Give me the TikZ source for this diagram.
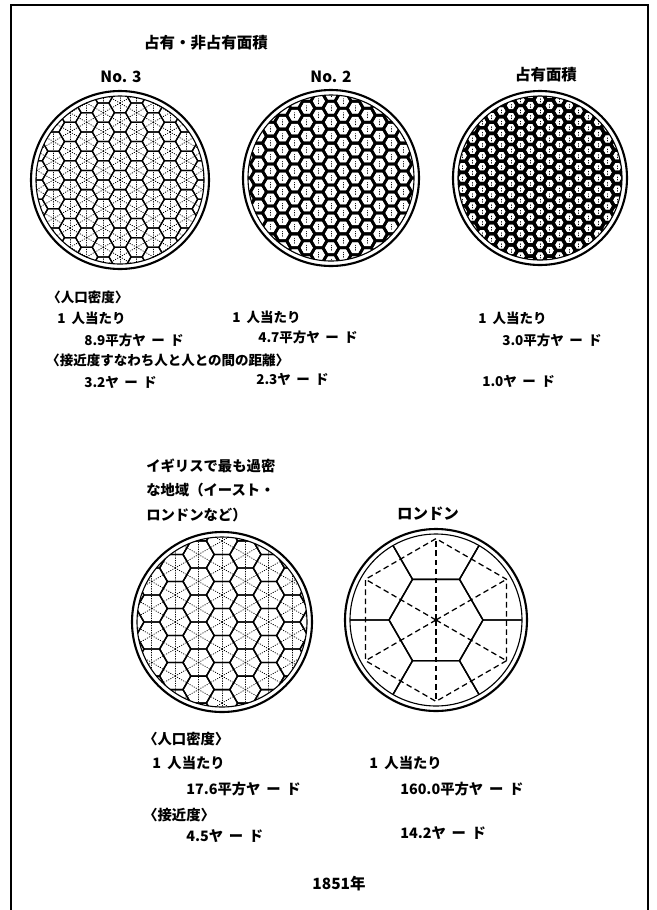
\documentclass[tikz,border=0pt]{standalone}
\usepackage{fontspec}
\setmainfont{Noto Sans CJK JP}
\usetikzlibrary{positioning}

% hexagon cells clipped to a disc: centre x, centre y, clip radius, side, wall style, cell motif
\newcommand{\hexfield}[6]{%
  \begin{scope}
    \clip (#1,#2) circle[radius=#3];
    \pgfmathsetmacro\ha{#4}
    \pgfmathtruncatemacro\ncol{#3/(1.5*#4)+2}
    \pgfmathtruncatemacro\nrow{#3/(1.7320508*#4)+2}
    \foreach \i in {-\ncol,...,\ncol}{
      \foreach \j in {-\nrow,...,\nrow}{
        \pgfmathsetmacro\hx{#1+1.5*#4*\i}
        \pgfmathsetmacro\hy{#2+1.7320508*#4*(\j+0.5*mod(abs(\i),2))}
        \begin{scope}[shift={(\hx,\hy)}]
          \draw[#5] (0:#4) -- (60:#4) -- (120:#4) -- (180:#4) -- (240:#4) -- (300:#4) -- cycle;
          #6
        \end{scope}
      }
    }
  \end{scope}}
\newcommand{\spokes}{\foreach \k in {30,90,...,330}{\draw[dots] (0,0) -- (\k:0.78*\ha);}}
\newcommand{\cellbar}{\draw[dots] (90:0.3*\ha) -- (270:0.3*\ha);}
\newcommand{\yd}{ヤ\kern0.4emー\kern0.4emド}

\begin{document}
\begin{tikzpicture}[x=0.025cm,y=-0.025cm,
  txt/.style={font=\bfseries\fontsize{9.6}{12}\selectfont,inner sep=0pt,anchor=west},
  btxt/.style={txt,font=\bfseries\fontsize{10.2}{12}\selectfont},
  ttl/.style={font=\bfseries\fontsize{11}{13}\selectfont,inner sep=0pt},
  rim/.style={line width=1.5pt},
  inrim/.style={line width=0.8pt},
  wall/.style={line width=#1},
  wall/.default=0.9pt,
  heavywall/.style={line width=#1,line join=round},
  dots/.style={line width=0.6pt,dash pattern=on 0.4pt off 1.3pt,line cap=round},
  guide/.style={line width=0.9pt,dash pattern=on 4pt off 2.5pt}]
  \useasboundingbox (0,0) rectangle (657,910);
  \draw[line width=1pt] (11,910) -- (11,5) -- (648,5) -- (648,910);

  \coordinate (c3) at (120,180);
  \coordinate (c2) at (331,178);
  \coordinate (c1) at (540,178);
  \coordinate (ec) at (222,622);
  \coordinate (lc) at (436,620);

  % occupied and unoccupied area
  \node[ttl] (title) at (206,43) {占有・非占有面積};
  \node[ttl] (no3) at (121,77) {No. 3};
  \node[ttl] (no2) at (331,77) {No. 2};
  \node[ttl] (occ) at (546,75) {占有面積};

  \hexfield{120}{180}{84}{11.1}{wall}{\spokes}
  \hexfield{331}{178}{83}{8.06}{heavywall=2pt}{\cellbar}
  \hexfield{540}{178}{82}{6.44}{heavywall=2.4pt}{\cellbar}
  \foreach \c/\r in {c3/89,c2/88,c1/87}{
    \draw[rim] (\c) circle[radius=\r];
    \draw[inrim] (\c) circle[radius=\r-5];
  }

  \node[txt] (dens) at (47,297) {〈人口密度〉};
  \node[txt] (per3) at (57,318) {1\hspace{0.45em}人当たり};
  \node[txt] (per2) at (232,317) {1\hspace{0.45em}人当たり};
  \node[txt] (per1) at (478,318) {1\hspace{0.45em}人当たり};
  \node[txt] (sq3) at (84,340) {8.9平方\yd};
  \node[txt] (sq2) at (258,337) {4.7平方\yd};
  \node[txt] (sq1) at (502,340) {3.0平方\yd};
  \node[txt] (near) at (46,360) {〈接近度すなわち人と人との間の距離〉};
  \node[txt] (yd3) at (84,382) {3.2\yd};
  \node[txt] (yd2) at (256,379) {2.3\yd};
  \node[txt] (yd1) at (482,381) {1.0\yd};

  % East London and London
  \node[btxt] (east1) at (146,466) {イギリスで最も過密};
  \node[btxt,below=7pt of east1.south west,anchor=north west] (east2) {な地域（イースト・};
  \node[btxt,below=7pt of east2.south west,anchor=north west] (east3) {ロンドンなど）};
  \node[ttl] (lon) at (428,514) {ロンドン};

  \hexfield{222}{622}{85}{15.6}{wall=1pt}{\spokes}
  \hexfield{436}{620}{86}{47}{wall=1pt}{}
  \foreach \k in {30,90,...,330}
    \draw[guide] (lc) -- ++(\k:81.4);
  \draw[guide] ([shift={(30:81.4)}]lc) -- ([shift={(90:81.4)}]lc) -- ([shift={(150:81.4)}]lc)
    -- ([shift={(210:81.4)}]lc) -- ([shift={(270:81.4)}]lc) -- ([shift={(330:81.4)}]lc) -- cycle;
  \fill (lc) circle[radius=2];
  \foreach \c/\r in {ec/90,lc/91}{
    \draw[rim] (\c) circle[radius=\r];
    \draw[inrim] (\c) circle[radius=\r-5];
  }

  \node[btxt] (edens) at (143,739) {〈人口密度〉};
  \node[btxt] (eper) at (152,763) {1\hspace{0.45em}人当たり};
  \node[btxt] (esq) at (186,789) {17.6平方\yd};
  \node[btxt] (enear) at (143,815) {〈接近度〉};
  \node[btxt] (eyd) at (186,836) {4.5\yd};
  \node[btxt] (lper) at (369,763) {1\hspace{0.45em}人当たり};
  \node[btxt] (lsq) at (400,789) {160.0平方\yd};
  \node[btxt] (lyd) at (400,833) {14.2\yd};

  \node[ttl] (year) at (339,884) {1851年};
\end{tikzpicture}
\end{document}
